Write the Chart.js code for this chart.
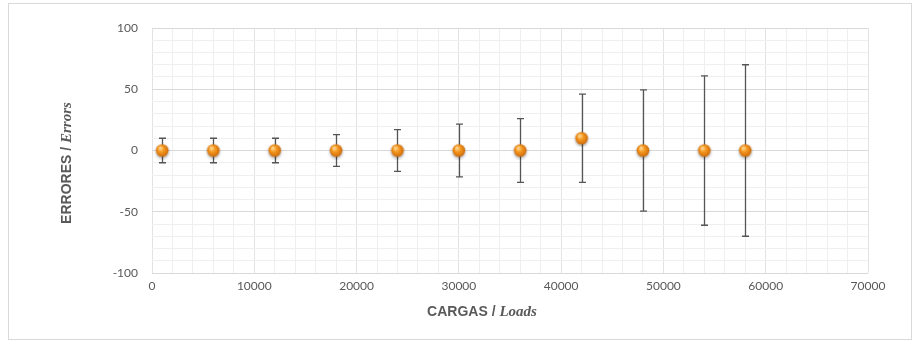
<!DOCTYPE html>
<html>
<head>
<meta charset="utf-8">
<script src="https://cdn.jsdelivr.net/npm/chart.js@4"></script>
<style>
  html, body { margin: 0; padding: 0; background: #fff; }
  #wrap { position: relative; width: 920px; height: 340px; }
  #frame { position: absolute; left: 8px; top: 3px; width: 904px; height: 337px;
           border: 1px solid #d9d9d9; box-sizing: border-box; }
  .ttl { position: absolute; font-family: "Liberation Sans", Lato, sans-serif; font-weight: bold;
         font-size: 14px; color: #595959; white-space: nowrap; }
  .ttl i { font-family: "Liberation Serif", "DejaVu Serif", serif; font-size: 15px; }
  #xTitle { left: 482px; top: 303px; transform: translateX(-50%); }
  #yTitle { left: 66px; top: 163px; transform: translate(-50%, -50%) rotate(-90deg); }
</style>
</head>
<body>
<div id="wrap">
  <div id="frame"></div>
  <canvas id="chart" width="920" height="340"></canvas>
  <div class="ttl" id="xTitle">CARGAS / <i>Loads</i></div>
  <div class="ttl" id="yTitle">ERRORES / <i>Errors</i></div>
</div>
<script>
// datos
const cargas = [1000, 6000, 12000, 18000, 24000, 30000, 36000, 42000, 48000, 54000, 58000];
const errores = [0, 0, 0, 0, 0, 0, 0, 10, 0, 0, 0];
const barrasError = [10, 10, 10, 13, 17, 21.5, 26, 36, 49.5, 61, 70];

// marcador esferico naranja
function esfera() {
  const c = document.createElement('canvas');
  c.width = 18; c.height = 18;
  const g = c.getContext('2d');
  g.shadowColor = 'rgba(0,0,0,0.35)';
  g.shadowBlur = 3;
  g.shadowOffsetY = 1.5;
  const grad = g.createRadialGradient(7, 6.5, 1, 9, 9, 7);
  grad.addColorStop(0, '#fcd08a');
  grad.addColorStop(0.35, '#f5991f');
  grad.addColorStop(1, '#c9650a');
  g.fillStyle = grad;
  g.beginPath();
  g.arc(9, 9, 6.3, 0, Math.PI * 2);
  g.fill();
  return c;
}

// barras de error dibujadas con las escalas del grafico
const errorBarsPlugin = {
  id: 'errorBars',
  beforeDatasetsDraw(chart) {
    const { ctx, scales: { x, y } } = chart;
    ctx.save();
    ctx.strokeStyle = '#555';
    ctx.lineWidth = 1.3;
    cargas.forEach((c, i) => {
      const px = Math.round(x.getPixelForValue(c)) + 0.5;
      const top = y.getPixelForValue(errores[i] + barrasError[i]);
      const bot = y.getPixelForValue(errores[i] - barrasError[i]);
      ctx.beginPath();
      ctx.moveTo(px, top); ctx.lineTo(px, bot);
      ctx.moveTo(px - 3.5, top); ctx.lineTo(px + 3.5, top);
      ctx.moveTo(px - 3.5, bot); ctx.lineTo(px + 3.5, bot);
      ctx.stroke();
    });
    ctx.restore();
  }
};

const tickFont = { family: 'Lato, "Open Sans", sans-serif', size: 12 };

new Chart(document.getElementById('chart'), {
  type: 'scatter',
  data: {
    datasets: [{
      data: cargas.map((c, i) => ({ x: c, y: errores[i] })),
      pointStyle: esfera(),
      pointRadius: 7,
      pointHoverRadius: 7
    }]
  },
  options: {
    responsive: false,
    animation: false,
    layout: { padding: { left: 0, right: 52, top: 28, bottom: 0 } },
    plugins: { legend: { display: false }, tooltip: { enabled: false } },
    scales: {
      x: {
        type: 'linear', min: 0, max: 70000,
        afterFit: (s) => { s.height = 67; },
        ticks: {
          stepSize: 2000, autoSkip: false, maxRotation: 0, color: '#595959', font: tickFont, padding: 6,
          callback: (v) => (v % 10000 === 0 ? v : '')
        },
        grid: {
          color: (ctx) => (ctx.tick && ctx.tick.value % 10000 === 0 ? '#e3e3e3' : '#efefef'),
          drawTicks: false
        },
        border: { display: false }
      },
      y: {
        min: -100, max: 100,
        afterFit: (s) => { s.width = 152; },
        ticks: {
          stepSize: 10, autoSkip: false, color: '#595959', font: tickFont, padding: 14,
          callback: (v) => (v % 50 === 0 ? v : '')
        },
        grid: {
          color: (ctx) => (ctx.tick && ctx.tick.value % 50 === 0 ? '#d9d9d9' : '#efefef'),
          drawTicks: false
        },
        border: { display: false }
      }
    }
  },
  plugins: [errorBarsPlugin]
});
</script>
</body>
</html>
